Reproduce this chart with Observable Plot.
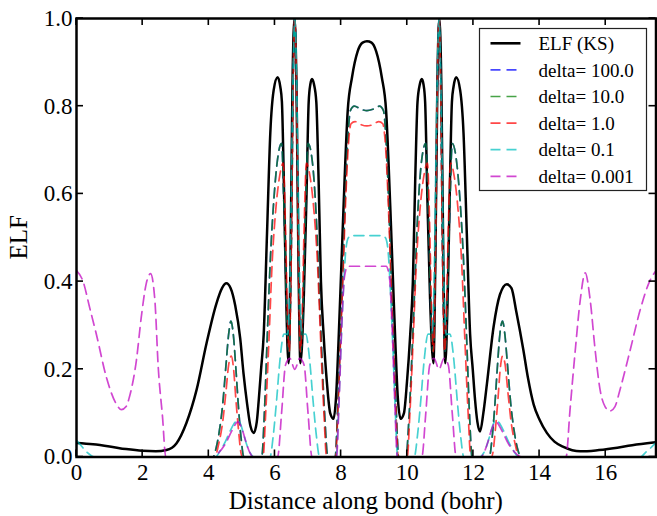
<!DOCTYPE html>
<html>
<head>
<meta charset="utf-8">
<script src="https://cdn.jsdelivr.net/npm/d3@7"></script>
<script src="https://cdn.jsdelivr.net/npm/@observablehq/plot@0.6"></script>
<style>
  html, body { margin: 0; padding: 0; background: white; }
  #chart { width: 657px; height: 516px; }
</style>
</head>
<body>
<div id="chart"></div>
<script>
// ---------- data ----------
const xTicks = [0, 2, 4, 6, 8, 10, 12, 14, 16];
const yTicks = [0, 0.2, 0.4, 0.6, 0.8, 1.0];
const xLabel = "Distance along bond (bohr)";
const yLabel = "ELF";
const seriesNames = ["ELF (KS)", "delta= 100.0", "delta= 10.0", "delta= 1.0", "delta= 0.1", "delta= 0.001"];
const seriesColors = ["#000000", "#0000ff", "#008000", "#ff0000", "#00bfbf", "#bf00bf"];

const elfKS = [
  [0,0.032],[0.5,0.029],[1.0,0.024],[1.5,0.018],[2.0,0.014],[2.4,0.013],[2.72,0.016],[3.02,0.031],
  [3.32,0.077],[3.63,0.153],[3.93,0.259],[4.23,0.35],[4.4,0.385],[4.53,0.396],[4.66,0.385],[4.8,0.345],
  [4.95,0.27],[5.05,0.19],[5.16,0.12],[5.26,0.07],[5.36,0.055],[5.45,0.08],[5.51,0.13],[5.58,0.2],
  [5.66,0.28],[5.76,0.51],[5.86,0.74],[5.96,0.836],[6.08,0.866],[6.16,0.845],[6.21,0.81],[6.28,0.585],
  [6.34,0.36],[6.41,0.214],[6.47,0.45],[6.53,0.85],[6.59,1.0],[6.65,0.85],[6.71,0.45],[6.77,0.214],
  [6.87,0.36],[6.95,0.585],[7.02,0.81],[7.07,0.85],[7.12,0.862],[7.18,0.85],[7.25,0.81],[7.32,0.63],
  [7.39,0.4],[7.47,0.28],[7.57,0.17],[7.67,0.1],[7.77,0.087],[7.85,0.14],[7.92,0.26],[8.0,0.42],
  [8.07,0.563],[8.2,0.79],[8.33,0.866],[8.5,0.925],[8.65,0.945],[8.78,0.948],[8.92,0.945],[9.06,0.925],
  [9.23,0.866],[9.36,0.79],[9.49,0.563],[9.56,0.42],[9.64,0.26],[9.71,0.14],[9.8,0.087],[9.9,0.1],
  [9.99,0.17],[10.09,0.28],[10.17,0.4],[10.24,0.63],[10.31,0.81],[10.38,0.85],[10.44,0.862],[10.49,0.85],
  [10.54,0.81],[10.61,0.585],[10.69,0.36],[10.79,0.214],[10.85,0.45],[10.91,0.85],[10.97,1.0],[11.03,0.85],
  [11.09,0.45],[11.15,0.214],[11.22,0.36],[11.28,0.585],[11.35,0.81],[11.4,0.845],[11.48,0.866],[11.6,0.836],
  [11.7,0.74],[11.8,0.51],[11.9,0.28],[11.98,0.2],[12.05,0.13],[12.12,0.08],[12.2,0.058],[12.3,0.1],
  [12.41,0.168],[12.61,0.297],[12.8,0.37],[13.01,0.394],[13.15,0.385],[13.3,0.33],[13.51,0.244],[13.65,0.18],
  [13.82,0.12],[14.0,0.085],[14.22,0.055],[14.45,0.035],[14.72,0.023],[15.23,0.013],[15.7,0.015],[16.23,0.02],
  [16.8,0.027],[17.44,0.033],[17.56,0.034]
];

const delta100 = [
  [0,0],[4.12,0],[4.22,0.02],[4.32,0.06],[4.42,0.12],[4.52,0.21],[4.6,0.28],[4.67,0.31],[4.74,0.28],
  [4.82,0.2],[4.9,0.11],[4.98,0.04],[5.06,0],[5.6,0],[5.68,0.1],[5.76,0.26],[5.86,0.45],[5.96,0.58],
  [6.08,0.68],[6.2,0.715],[6.28,0.55],[6.36,0.32],[6.42,0.24],[6.5,0.5],[6.55,0.85],[6.6,1.0],[6.65,0.85],
  [6.7,0.5],[6.78,0.24],[6.84,0.32],[6.92,0.55],[7.0,0.715],[7.12,0.68],[7.24,0.56],[7.37,0.32],[7.5,0.1],
  [7.6,0],[7.82,0],[7.9,0.12],[7.97,0.26],[8.05,0.42],[8.12,0.58],[8.2,0.72],[8.28,0.79],[8.4,0.8],
  [8.6,0.793],[8.78,0.79],[8.96,0.793],[9.16,0.8],[9.28,0.79],[9.36,0.72],[9.44,0.58],[9.51,0.42],
  [9.59,0.26],[9.66,0.12],[9.74,0],[9.96,0],[10.06,0.1],[10.19,0.32],[10.32,0.56],[10.44,0.68],[10.56,0.715],
  [10.64,0.55],[10.72,0.32],[10.78,0.24],[10.86,0.5],[10.91,0.85],[10.96,1.0],[11.01,0.85],[11.06,0.5],
  [11.14,0.24],[11.2,0.32],[11.28,0.55],[11.36,0.715],[11.48,0.68],[11.6,0.58],[11.7,0.45],[11.8,0.26],
  [11.88,0.1],[11.96,0],[12.48,0],[12.56,0.04],[12.64,0.11],[12.72,0.2],[12.8,0.28],[12.88,0.31],
  [12.95,0.28],[13.03,0.21],[13.13,0.12],[13.23,0.06],[13.33,0.02],[13.44,0],[17.56,0]
];

const delta10 = [
  [0,0],[4.12,0],[4.22,0.02],[4.32,0.06],[4.42,0.12],[4.52,0.21],[4.6,0.28],[4.67,0.31],[4.74,0.28],
  [4.82,0.2],[4.9,0.11],[4.98,0.04],[5.06,0],[5.6,0],[5.68,0.1],[5.76,0.26],[5.86,0.45],[5.96,0.58],
  [6.08,0.68],[6.2,0.715],[6.28,0.55],[6.36,0.32],[6.42,0.24],[6.5,0.5],[6.55,0.85],[6.6,1.0],[6.65,0.85],
  [6.7,0.5],[6.78,0.24],[6.84,0.32],[6.92,0.55],[7.0,0.715],[7.12,0.68],[7.24,0.56],[7.37,0.32],[7.5,0.1],
  [7.6,0],[7.82,0],[7.9,0.12],[7.97,0.26],[8.05,0.42],[8.12,0.58],[8.2,0.72],[8.28,0.79],[8.4,0.8],
  [8.6,0.793],[8.78,0.79],[8.96,0.793],[9.16,0.8],[9.28,0.79],[9.36,0.72],[9.44,0.58],[9.51,0.42],
  [9.59,0.26],[9.66,0.12],[9.74,0],[9.96,0],[10.06,0.1],[10.19,0.32],[10.32,0.56],[10.44,0.68],[10.56,0.715],
  [10.64,0.55],[10.72,0.32],[10.78,0.24],[10.86,0.5],[10.91,0.85],[10.96,1.0],[11.01,0.85],[11.06,0.5],
  [11.14,0.24],[11.2,0.32],[11.28,0.55],[11.36,0.715],[11.48,0.68],[11.6,0.58],[11.7,0.45],[11.8,0.26],
  [11.88,0.1],[11.96,0],[12.48,0],[12.56,0.04],[12.64,0.11],[12.72,0.2],[12.8,0.28],[12.88,0.31],
  [12.95,0.28],[13.03,0.21],[13.13,0.12],[13.23,0.06],[13.33,0.02],[13.44,0],[17.56,0]
];

const delta1 = [
  [0,0],[4.18,0],[4.3,0.03],[4.42,0.08],[4.52,0.15],[4.6,0.21],[4.68,0.23],[4.75,0.2],[4.82,0.13],
  [4.9,0.06],[4.97,0.01],[5.02,0],[5.64,0],[5.72,0.1],[5.82,0.27],[5.92,0.45],[6.02,0.56],[6.14,0.64],
  [6.25,0.67],[6.32,0.52],[6.38,0.32],[6.43,0.24],[6.5,0.5],[6.55,0.85],[6.6,1.0],[6.65,0.85],[6.7,0.5],
  [6.77,0.24],[6.82,0.32],[6.88,0.52],[6.95,0.67],[7.06,0.64],[7.18,0.56],[7.28,0.45],[7.38,0.27],
  [7.48,0.1],[7.56,0],[7.83,0],[7.91,0.12],[7.98,0.26],[8.06,0.42],[8.13,0.57],[8.21,0.7],[8.3,0.76],
  [8.42,0.765],[8.6,0.758],[8.78,0.755],[8.96,0.758],[9.14,0.765],[9.26,0.76],[9.35,0.7],[9.43,0.57],
  [9.5,0.42],[9.58,0.26],[9.65,0.12],[9.73,0],[10.0,0],[10.08,0.1],[10.18,0.27],[10.28,0.45],[10.38,0.56],
  [10.5,0.64],[10.61,0.67],[10.68,0.52],[10.74,0.32],[10.79,0.24],[10.86,0.5],[10.91,0.85],[10.96,1.0],
  [11.01,0.85],[11.06,0.5],[11.13,0.24],[11.18,0.32],[11.24,0.52],[11.31,0.67],[11.42,0.64],[11.54,0.56],
  [11.64,0.45],[11.74,0.27],[11.84,0.1],[11.92,0],[12.54,0],[12.59,0.01],[12.66,0.06],[12.74,0.13],
  [12.81,0.2],[12.88,0.23],[12.96,0.21],[13.04,0.15],[13.14,0.08],[13.26,0.03],[13.38,0],[17.56,0]
];

const delta01 = [
  [0,0.038],[0.15,0.025],[0.3,0.012],[0.45,0.003],[0.55,0],[4.2,0],[4.35,0.015],[4.5,0.035],[4.65,0.06],
  [4.78,0.078],[4.87,0.084],[4.96,0.075],[5.06,0.05],[5.16,0.025],[5.26,0.008],[5.36,0],[5.85,0],
  [5.95,0.05],[6.05,0.13],[6.15,0.22],[6.27,0.28],[6.38,0.28],[6.45,0.4],[6.52,0.75],[6.6,1.0],
  [6.68,0.75],[6.75,0.4],[6.82,0.28],[6.93,0.28],[7.05,0.22],[7.15,0.13],[7.25,0.05],[7.35,0],
  [7.85,0],[7.93,0.12],[8.0,0.26],[8.07,0.38],[8.14,0.47],[8.22,0.5],[8.32,0.505],[8.78,0.505],
  [9.24,0.505],[9.34,0.5],[9.42,0.47],[9.49,0.38],[9.56,0.26],[9.63,0.12],[9.71,0],[10.21,0],
  [10.31,0.05],[10.41,0.13],[10.51,0.22],[10.63,0.28],[10.74,0.28],[10.81,0.4],[10.88,0.75],[10.96,1.0],
  [11.04,0.75],[11.11,0.4],[11.18,0.28],[11.29,0.28],[11.41,0.22],[11.51,0.13],[11.61,0.05],[11.71,0],
  [12.2,0],[12.3,0.008],[12.4,0.025],[12.5,0.05],[12.6,0.075],[12.69,0.084],[12.78,0.078],[12.91,0.06],
  [13.06,0.035],[13.21,0.015],[13.36,0],[17.05,0],[17.2,0.01],[17.35,0.02],[17.56,0.036]
];

const delta0001 = [
  [0,0.425],[0.2,0.4],[0.4,0.34],[0.6,0.28],[0.91,0.18],[1.21,0.12],[1.36,0.108],[1.5,0.115],[1.6,0.137],
  [1.81,0.22],[1.96,0.32],[2.11,0.396],[2.24,0.418],[2.37,0.357],[2.47,0.206],[2.6,0.092],[2.7,0],
  [4.1,0],[4.3,0.01],[4.5,0.03],[4.7,0.06],[4.88,0.08],[5.0,0.065],[5.12,0.035],[5.24,0.01],[5.34,0],
  [6.08,0],[6.2,0.1],[6.32,0.21],[6.45,0.225],[6.6,0.2],[6.75,0.225],[6.88,0.21],[7.0,0.1],[7.12,0],
  [7.86,0],[7.94,0.13],[8.02,0.3],[8.1,0.41],[8.2,0.435],[8.78,0.435],[9.36,0.435],[9.46,0.41],[9.54,0.3],
  [9.62,0.13],[9.7,0],[10.44,0],[10.56,0.1],[10.68,0.21],[10.81,0.225],[10.96,0.2],[11.11,0.225],
  [11.24,0.21],[11.36,0.1],[11.48,0],[12.22,0],[12.32,0.01],[12.44,0.035],[12.56,0.065],[12.68,0.08],
  [12.86,0.06],[13.06,0.03],[13.26,0.01],[13.46,0],[14.8,0],[14.92,0.107],[15.08,0.244],[15.23,0.358],
  [15.38,0.42],[15.53,0.358],[15.68,0.244],[15.83,0.153],[15.98,0.115],[16.13,0.105],[16.28,0.115],
  [16.43,0.153],[16.74,0.244],[17.04,0.335],[17.34,0.403],[17.56,0.428]
];

const seriesData = [elfKS, delta100, delta10, delta1, delta01, delta0001];

// ---------- chart ----------
const FONT = "'Liberation Serif', 'DejaVu Serif', serif";
const dash = "10,6";

const lineMarks = seriesData.map((data, i) => Plot.line(data, {
  x: d => d[0], y: d => d[1],
  stroke: seriesColors[i],
  strokeWidth: i === 0 ? 2.5 : 1.7,
  strokeOpacity: i === 0 ? 1 : 0.72,
  strokeDasharray: i === 0 ? null : dash,
  curve: "monotone-x",
  clip: true
}));

const chart = Plot.plot({
  width: 657, height: 516,
  marginLeft: 76, marginRight: 1.5, marginTop: 18, marginBottom: 59.5,
  style: {fontFamily: FONT, background: "white", color: "black", overflow: "visible"},
  x: {domain: [0, 17.52]},
  y: {domain: [0, 1]},
  marks: [
    ...lineMarks,
    Plot.axisX({ticks: xTicks, tickSize: 0, tickPadding: 7, fontSize: 23, label: null, tickFormat: d => String(d)}),
    Plot.axisY({ticks: yTicks, tickSize: 0, tickPadding: 4, fontSize: 23, label: null, tickFormat: d3.format(".1f")}),
    Plot.frame({stroke: "black", strokeWidth: 2.5})
  ]
});

document.getElementById("chart").appendChild(chart);

const svg = d3.select(chart);
const xs = chart.scale("x"), ys = chart.scale("y");
const [L, R] = xs.range, [B, T] = ys.range;
const TICK = 7;

// inward ticks on all four sides, placed through the plot's own scales
const tg = svg.append("g").attr("stroke", "black").attr("stroke-width", 1.6);
xTicks.forEach(v => {
  const px = xs.apply(v);
  tg.append("line").attr("x1", px).attr("x2", px).attr("y1", B).attr("y2", B - TICK);
  tg.append("line").attr("x1", px).attr("x2", px).attr("y1", T).attr("y2", T + TICK);
});
yTicks.forEach(v => {
  const py = ys.apply(v);
  tg.append("line").attr("x1", L).attr("x2", L + TICK).attr("y1", py).attr("y2", py);
  tg.append("line").attr("x1", R).attr("x2", R - TICK).attr("y1", py).attr("y2", py);
});

// axis titles
svg.append("text")
  .attr("x", (L + R) / 2).attr("y", 509)
  .attr("text-anchor", "middle")
  .attr("font-family", FONT).attr("font-size", 25)
  .attr("fill", "black")
  .text(xLabel);
svg.append("text")
  .attr("transform", `translate(27,${(T + B) / 2}) rotate(-90)`)
  .attr("text-anchor", "middle")
  .attr("font-family", FONT).attr("font-size", 25)
  .attr("fill", "black")
  .text(yLabel);

// legend
const lg = svg.append("g");
lg.append("rect")
  .attr("x", 479.5).attr("y", 28.5).attr("width", 167).attr("height", 162)
  .attr("fill", "white").attr("stroke", "#222").attr("stroke-width", 1.2);
seriesNames.forEach((name, i) => {
  const y = 43.3 + i * 26.6;
  lg.append("line")
    .attr("x1", 490.5).attr("x2", 520.5).attr("y1", y).attr("y2", y)
    .attr("stroke", seriesColors[i])
    .attr("stroke-width", i === 0 ? 2.6 : 1.7)
    .attr("stroke-opacity", i === 0 ? 1 : 0.72)
    .attr("stroke-dasharray", i === 0 ? null : dash);
  lg.append("text")
    .attr("x", 538.5).attr("y", y).attr("dy", "0.35em")
    .attr("text-anchor", "start")
    .attr("font-family", FONT).attr("font-size", 19)
    .attr("fill", "black")
    .text(name);
});
</script>
</body>
</html>
